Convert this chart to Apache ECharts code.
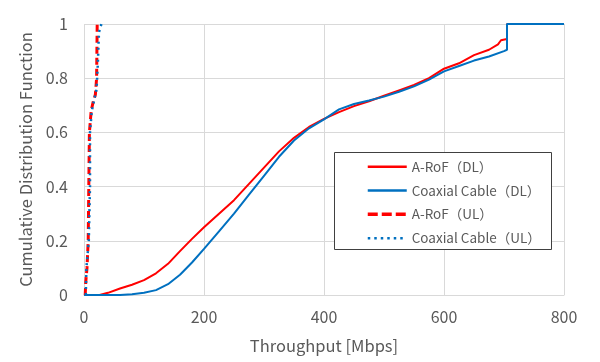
<!DOCTYPE html>
<html>
<head>
<meta charset="utf-8">
<script src="https://cdn.jsdelivr.net/npm/echarts@6/dist/echarts.min.js"></script>
<style>html,body{margin:0;padding:0;background:#fff}#c{width:600px;height:362px}</style>
</head>
<body>
<div id="c"></div>
<script>
const seriesNames = ['A-RoF（DL）', 'Coaxial Cable（DL）', 'A-RoF（UL）', 'Coaxial Cable（UL）'];
const xTicks = [0, 200, 400, 600, 800];
const yTicks = [0, 0.2, 0.4, 0.6, 0.8, 1];
const aRofDL = [[26,0],[40,0.008],[60,0.024],[80,0.038],[100,0.055],[120,0.08],[140,0.115],[160,0.162],[180,0.207],[200,0.25],[225,0.3],[250,0.35],[275,0.41],[300,0.47],[325,0.53],[350,0.58],[375,0.62],[400,0.65],[425,0.675],[450,0.697],[475,0.715],[500,0.735],[525,0.755],[550,0.775],[575,0.8],[600,0.835],[625,0.855],[650,0.885],[675,0.905],[690,0.925],[695,0.94],[705,0.945],[705,1],[800,1]];
const coaxDL = [[0,0],[60,0],[80,0.003],[100,0.008],[120,0.018],[140,0.04],[160,0.075],[180,0.12],[200,0.17],[225,0.235],[250,0.3],[275,0.37],[300,0.44],[325,0.51],[350,0.57],[375,0.615],[400,0.648],[425,0.685],[450,0.705],[475,0.718],[500,0.732],[525,0.75],[550,0.77],[575,0.795],[600,0.825],[625,0.845],[650,0.865],[675,0.88],[700,0.9],[705,0.905],[705,1],[800,1]];
const aRofUL = [[2,0],[3,0.05],[5,0.1],[7,0.2],[8,0.4],[9,0.6],[12,0.68],[15,0.71],[19,0.74],[21,0.8],[22,1]];
const coaxUL = [[3,0],[4,0.1],[8,0.2],[10,0.4],[10,0.6],[13,0.68],[17,0.72],[21,0.76],[23,0.85],[25,0.97],[29,1]];

const FONT = '"Noto Sans CJK JP", "Noto Sans", sans-serif';
const TXT = '#595959';
const RED = '#FF0000', BLUE = '#0070C0';

const chart = echarts.init(document.getElementById('c'), null, {renderer: 'canvas'});
chart.setOption({
  animation: false,
  backgroundColor: '#fff',
  textStyle: {fontFamily: FONT, color: TXT},
  grid: {left: 84, right: 36, top: 24, bottom: 67, containLabel: false},
  xAxis: {
    type: 'value', min: xTicks[0], max: xTicks[xTicks.length-1], interval: 200,
    name: 'Throughput [Mbps]', nameLocation: 'middle', nameGap: 42,
    nameTextStyle: {fontFamily: FONT, color: TXT, fontSize: 16.5},
    axisLine: {show: true, lineStyle: {color: '#D9D9D9', width: 1}},
    axisTick: {show: false},
    axisLabel: {fontFamily: FONT, color: TXT, fontSize: 16, margin: 14},
    splitLine: {show: true, lineStyle: {color: '#D9D9D9', width: 1}}
  },
  yAxis: {
    type: 'value', min: yTicks[0], max: yTicks[yTicks.length-1], interval: 0.2,
    name: 'Cumulative Distribution Function', nameLocation: 'middle', nameGap: 50, nameRotate: 90,
    nameTextStyle: {fontFamily: FONT, color: TXT, fontSize: 16.5},
    axisLine: {show: false},
    axisTick: {show: false},
    axisLabel: {fontFamily: FONT, color: TXT, fontSize: 16, margin: 16},
    splitLine: {show: true, lineStyle: {color: '#D9D9D9', width: 1}}
  },
  graphic: [{
    type: 'rect', left: 334, top: 152, z: 5,
    shape: {width: 217, height: 97},
    style: {fill: '#fff', stroke: '#404040', lineWidth: 1}
  }],
  legend: {
    orient: 'vertical', left: 361, top: 155, z: 10,
    itemWidth: 39, itemHeight: 14, itemGap: 10.3,
    itemStyle: {opacity: 0},
    textStyle: {fontFamily: FONT, color: TXT, fontSize: 13.5},
    data: [
      {name: seriesNames[0], lineStyle: {width: 2.5}},
      {name: seriesNames[1], lineStyle: {width: 2.5}},
      {name: seriesNames[2], lineStyle: {width: 3.5, type: [10, 4]}},
      {name: seriesNames[3], lineStyle: {width: 2.5, type: [2.5, 4]}}
    ]
  },
  series: [
    {name: seriesNames[0], type: 'line', symbol: 'none', data: aRofDL, lineStyle: {color: RED, width: 2}, itemStyle: {color: RED}},
    {name: seriesNames[1], type: 'line', symbol: 'none', data: coaxDL, lineStyle: {color: BLUE, width: 2}, itemStyle: {color: BLUE}},
    {name: seriesNames[2], type: 'line', symbol: 'none', data: aRofUL, lineStyle: {color: RED, width: 3, type: [7, 4]}, itemStyle: {color: RED}},
    {name: seriesNames[3], type: 'line', symbol: 'none', data: coaxUL, lineStyle: {color: BLUE, width: 2.5, type: [2, 4]}, itemStyle: {color: BLUE}}
  ]
});
</script>
</body>
</html>
